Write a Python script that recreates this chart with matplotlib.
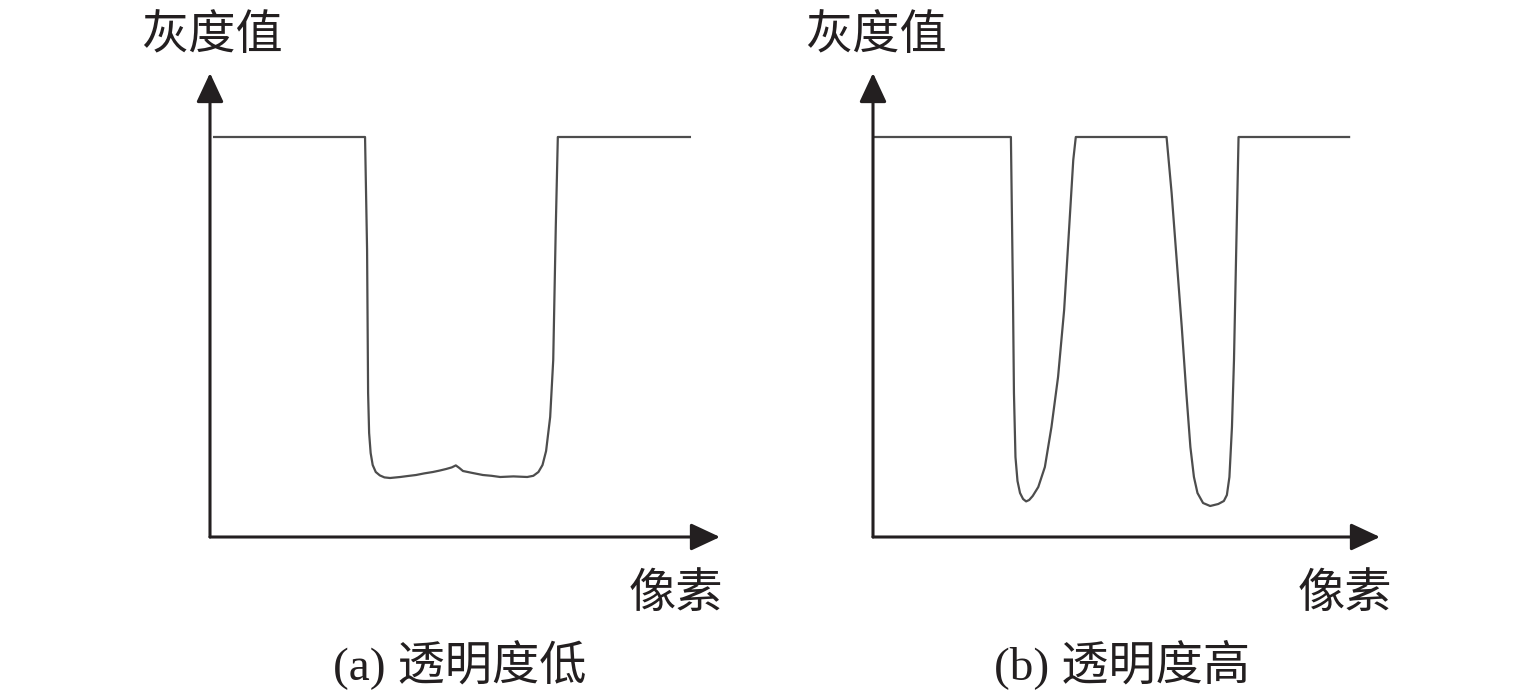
import matplotlib
matplotlib.use("Agg")
import matplotlib.pyplot as plt

plt.rcParams['font.family'] = ['Liberation Serif', 'Noto Sans CJK SC', 'DejaVu Sans']

# 灰度曲线 (a) 透明度低
x_a = [0.8, 30.4, 30.8, 31.0, 31.2, 31.5, 31.9, 32.5, 33.3, 34.2, 35.3, 37.3, 38.8, 40.4, 42.0,
       43.7, 45.0, 46.3, 47.4, 48.2, 48.9, 49.6, 51.5, 53.5, 55.2, 56.9, 59.5, 62.2,
       63.4, 64.4, 65.2, 65.9, 66.7, 67.3, 67.8, 68.2, 94.1]
y_a = [200, 200, 143.5, 72, 52, 42, 36, 32.5, 30.8, 29.8, 29.5, 30, 30.5, 31, 31.8,
       32.5, 33.2, 34, 34.8, 35.8, 34.5, 33, 32, 31, 30.6, 30, 30.3, 30,
       30.6, 32.5, 36, 43, 60, 88.5, 155, 200, 200]

# 灰度曲线 (b) 透明度高
x_b = [0.4, 27.2, 27.6, 27.8, 28.1, 28.5, 29.0, 29.6, 30.2, 30.8, 31.5, 32.6, 33.9, 35.2, 36.5,
       37.7, 38.7, 39.5, 40.0, 57.9, 58.9, 59.9, 60.9, 61.8, 62.6, 63.3, 64.0, 65.1, 66.5,
       68.1, 69.2, 69.8, 70.3, 70.8, 71.2, 71.6, 72.1, 93.9]
y_b = [200, 200, 122, 72, 40, 28, 22, 19, 17.8, 18.5, 20.5, 25, 35, 55, 80,
       113.5, 155, 188.5, 200, 200, 172, 138.5, 105, 72, 45, 30, 22, 17, 15.5,
       16.5, 18, 21, 30, 55, 88.5, 138.5, 200, 200]

panels = [
    (x_a, y_a, "(a) 透明度低"),
    (x_b, y_b, "(b) 透明度高"),
]

W, H = 1535, 697
fig = plt.figure(figsize=(W / 100, H / 100), dpi=100)

# 画面上的位置 (像素)
boxes = [(210, 510), (873, 507)]
label_pos = [(212, 676, 460), (876, 1345, 1122)]

axis_color = '#231f20'
for (x, y, cap), (left, width), (ylab_x, xlab_x, cap_x) in zip(panels, boxes, label_pos):
    ax = fig.add_axes([left / W, (H - 537) / H, width / W, 464 / H])
    ax.plot(x, y, color='#4d4d4d', lw=1.6, solid_joinstyle='round')
    ax.set_xlim(0, 100)
    ax.set_ylim(0, 232)
    ax.axis('off')
    # 坐标轴箭头
    arrow = dict(arrowstyle='-|>,head_length=0.6,head_width=0.28', lw=2.2,
                 color=axis_color, mutation_scale=30, shrinkA=0, shrinkB=0)
    ax.annotate('', xy=(0, 1), xytext=(0, 0), xycoords='axes fraction',
                arrowprops=arrow)
    ax.annotate('', xy=(1, 0), xytext=(0, 0), xycoords='axes fraction',
                arrowprops=arrow)

    fig.text(ylab_x / W, 1 - 37 / H, "灰度值", fontsize=34, ha='center',
             va='center', color='#231f20')
    fig.text(xlab_x / W, 1 - 595 / H, "像素", fontsize=34, ha='center',
             va='center', color='#231f20')
    fig.text(cap_x / W, 1 - 665 / H, cap, fontsize=34, ha='center',
             va='center', color='#231f20')

fig.savefig("out.png", dpi=100, facecolor='white')
